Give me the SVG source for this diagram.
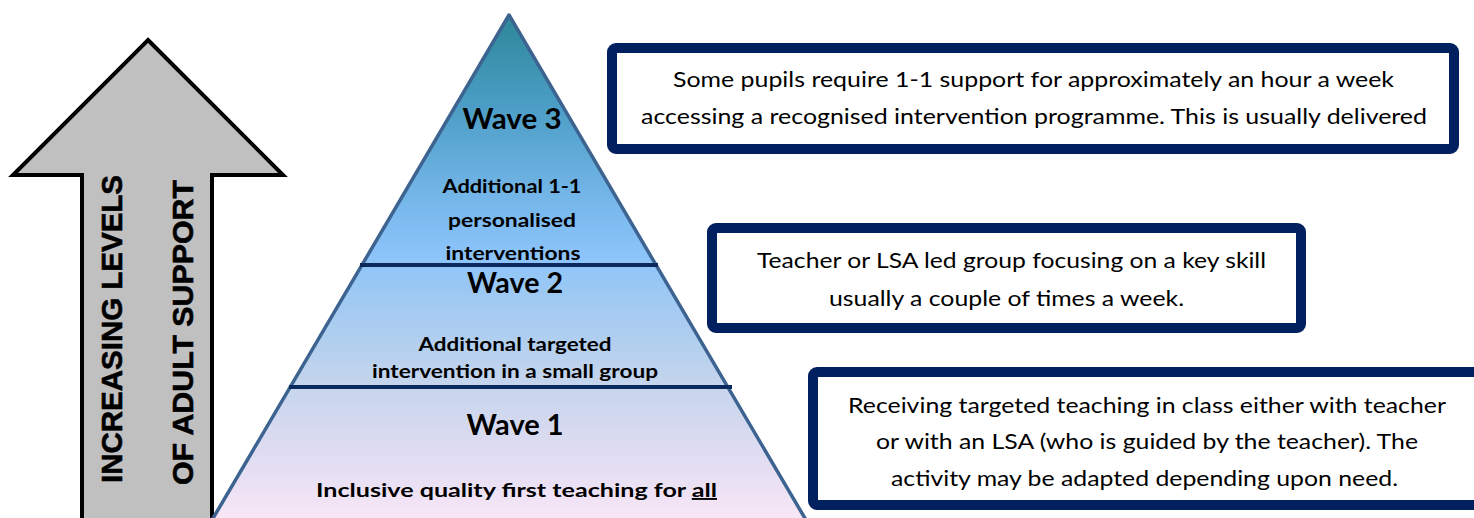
<svg xmlns="http://www.w3.org/2000/svg" width="1474" height="518" viewBox="0 0 1474 518">
  <defs>
    <linearGradient id="pyrFill" gradientUnits="userSpaceOnUse" x1="0" y1="15" x2="0" y2="518">
      <stop offset="0" stop-color="#2d8798"/>
      <stop offset="0.18" stop-color="#4b9dc5"/>
      <stop offset="0.38" stop-color="#78b8ec"/>
      <stop offset="0.48" stop-color="#8cc4fa"/>
      <stop offset="0.56" stop-color="#9ec9f2"/>
      <stop offset="0.74" stop-color="#c6d5ec"/>
      <stop offset="0.87" stop-color="#dfdcf2"/>
      <stop offset="1" stop-color="#f7e6f6"/>
    </linearGradient>
    <style>
      .arrowTxt { font-family: "Liberation Sans", Arial, sans-serif; font-weight: bold; font-size: 29.5px; fill: #000; stroke: #000; stroke-width: 0.6px; }
      .wave { font-family: Lato, "Open Sans", sans-serif; font-weight: bold; font-size: 28.5px; fill: #000; text-anchor: middle; }
      .sub { font-family: Lato, "Open Sans", sans-serif; font-weight: bold; font-size: 19px; fill: #000; text-anchor: middle; }
      .box { fill: #fff; stroke: #002060; stroke-width: 10; }
      .boxTxt { font-family: Lato, "Open Sans", sans-serif; font-size: 21.5px; fill: #000; text-anchor: middle; }
      .divider { stroke: #0a2a5e; stroke-width: 4; }
    </style>
  </defs>

  <g id="arrow">
    <polygon points="148,40 283,175 212,175 212,522 82,522 82,175 13,175" fill="#c0c0c0" stroke="#000" stroke-width="4" stroke-linejoin="miter"/>
    <text class="arrowTxt" x="122" y="329" text-anchor="middle" textLength="308" lengthAdjust="spacingAndGlyphs" transform="rotate(-90 122 329)">INCREASING LEVELS</text>
    <text class="arrowTxt" x="193" y="332.5" text-anchor="middle" textLength="305" lengthAdjust="spacingAndGlyphs" transform="rotate(-90 193 332.5)">OF ADULT SUPPORT</text>
  </g>

  <g id="pyramid">
    <polygon points="509,15 806,520 212,520" fill="url(#pyrFill)" stroke="#3d6390" stroke-width="3.5" stroke-linejoin="round"/>
    <line class="divider" x1="360" y1="265" x2="658" y2="265"/>
    <line class="divider" x1="289" y1="387" x2="732" y2="387"/>
  </g>

  <g id="wave3">
    <text class="wave" x="512" y="129" textLength="99" lengthAdjust="spacingAndGlyphs">Wave 3</text>
    <text class="sub" x="512" y="193" textLength="139" lengthAdjust="spacingAndGlyphs">Additional 1-1</text>
    <text class="sub" x="512" y="227" textLength="128" lengthAdjust="spacingAndGlyphs">personalised</text>
    <text class="sub" x="513" y="260" textLength="135" lengthAdjust="spacingAndGlyphs">interventions</text>
  </g>

  <g id="wave2">
    <text class="wave" x="515" y="293" textLength="96" lengthAdjust="spacingAndGlyphs">Wave 2</text>
    <text class="sub" x="515" y="351" textLength="193" lengthAdjust="spacingAndGlyphs">Additional targeted</text>
    <text class="sub" x="515" y="378" textLength="286" lengthAdjust="spacingAndGlyphs">intervention in a small group</text>
  </g>

  <g id="wave1">
    <text class="wave" x="515" y="435" textLength="97" lengthAdjust="spacingAndGlyphs">Wave 1</text>
    <text class="sub" x="516.5" y="497" textLength="401" lengthAdjust="spacingAndGlyphs">Inclusive quality first teaching for <tspan text-decoration="underline">all</tspan></text>
  </g>

  <g id="box-wave3">
    <rect class="box" x="612" y="48" width="842" height="101" rx="4"/>
    <text class="boxTxt" x="1033.5" y="87" textLength="721" lengthAdjust="spacingAndGlyphs">Some pupils require 1-1 support for approximately an hour a week</text>
    <text class="boxTxt" x="1034" y="124" textLength="786" lengthAdjust="spacingAndGlyphs">accessing a recognised intervention programme. This is usually delivered</text>
  </g>

  <g id="box-wave2">
    <rect class="box" x="712" y="228" width="589" height="100" rx="4"/>
    <text class="boxTxt" x="1011.5" y="268" textLength="509" lengthAdjust="spacingAndGlyphs">Teacher or LSA led group focusing on a key skill</text>
    <text class="boxTxt" x="1006.5" y="306" textLength="355" lengthAdjust="spacingAndGlyphs">usually a couple of times a week.</text>
  </g>

  <g id="box-wave1">
    <rect class="box" x="813" y="372" width="680" height="133" rx="4"/>
    <text class="boxTxt" x="1147" y="413" textLength="598" lengthAdjust="spacingAndGlyphs">Receiving targeted teaching in class either with teacher</text>
    <text class="boxTxt" x="1147" y="449" textLength="542" lengthAdjust="spacingAndGlyphs">or with an LSA (who is guided by the teacher). The</text>
    <text class="boxTxt" x="1144.5" y="486" textLength="507" lengthAdjust="spacingAndGlyphs">activity may be adapted depending upon need.</text>
  </g>

  <g id="connectors"/>
</svg>
